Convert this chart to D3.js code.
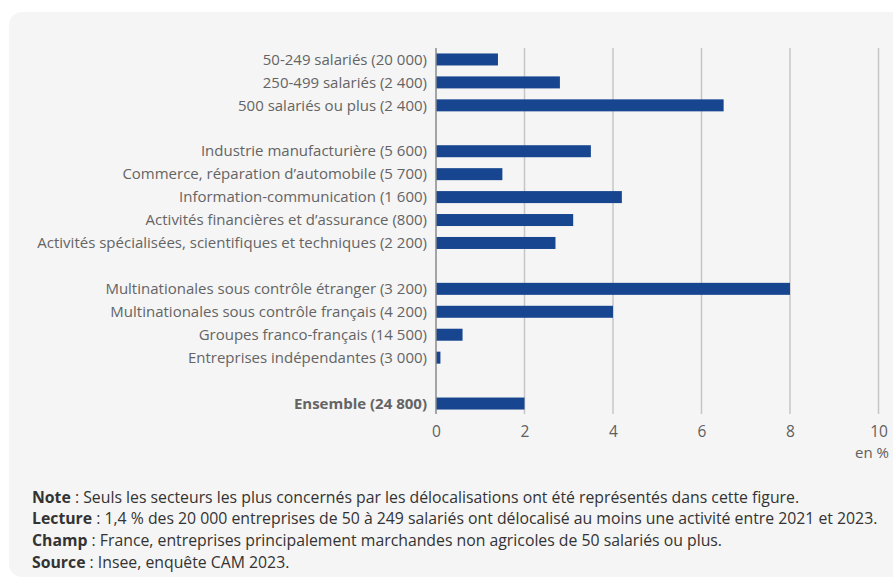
<!DOCTYPE html>
<html><head><meta charset="utf-8">
<script src="https://cdn.jsdelivr.net/npm/d3@7"></script>
<style>
html,body{margin:0;padding:0;background:#fff;}
svg{display:block;font-family:"Open Sans",sans-serif;}
</style></head>
<body>
<svg id="c" width="893" height="580"></svg>
<script>
const categories = [
  "50-249 salariés (20 000)",
  "250-499 salariés (2 400)",
  "500 salariés ou plus (2 400)",
  "",
  "Industrie manufacturière (5 600)",
  "Commerce, réparation d’automobile (5 700)",
  "Information-communication (1 600)",
  "Activités financières et d’assurance (800)",
  "Activités spécialisées, scientifiques et techniques (2 200)",
  " ",
  "Multinationales sous contrôle étranger (3 200)",
  "Multinationales sous contrôle français (4 200)",
  "Groupes franco-français (14 500)",
  "Entreprises indépendantes (3 000)",
  "  ",
  "Ensemble (24 800)"
];
const values = [1.4, 2.8, 6.5, null, 3.5, 1.5, 4.2, 3.1, 2.7, null, 8.0, 4.0, 0.6, 0.1, null, 2.0];
const boldCategories = ["Ensemble (24 800)"];
const xTicks = [0, 2, 4, 6, 8, 10];
const unitLabel = "en %";
const notes = [
  ["Note", " : Seuls les secteurs les plus concernés par les délocalisations ont été représentés dans cette figure."],
  ["Lecture", " : 1,4 % des 20 000 entreprises de 50 à 249 salariés ont délocalisé au moins une activité entre 2021 et 2023."],
  ["Champ", " : France, entreprises principalement marchandes non agricoles de 50 salariés ou plus."],
  ["Source", " : Insee, enquête CAM 2023."]
];

const svg = d3.select("#c");
svg.append("rect").attr("x", 9).attr("y", 12).attr("width", 900).attr("height", 565)
  .attr("rx", 13).attr("fill", "#f5f5f5");

const x = d3.scaleLinear().domain([0, 10]).range([436, 878.5]);
const y = d3.scaleBand().domain(categories).range([48, 415]).paddingInner(0.477).paddingOuter(0.2385);

// gridlines
svg.append("g").selectAll("line").data(xTicks.filter(d => d > 0)).join("line")
  .attr("x1", d => x(d)).attr("x2", d => x(d)).attr("y1", 48).attr("y2", 414)
  .attr("stroke", "#c6c6c6").attr("stroke-width", 1.5);

// bars
svg.append("g").selectAll("rect").data(categories.map((c, i) => ({c, v: values[i]})).filter(d => d.v != null))
  .join("rect")
  .attr("x", x(0)).attr("y", d => y(d.c)).attr("width", d => x(d.v) - x(0)).attr("height", y.bandwidth())
  .attr("fill", "#17458f");

// zero axis line
svg.append("line").attr("x1", x(0)).attr("x2", x(0)).attr("y1", 48).attr("y2", 414)
  .attr("stroke", "#8a8a8a").attr("stroke-width", 1.5);

// category labels
svg.append("g").selectAll("text").data(categories.filter(c => c.trim() !== "")).join("text")
  .attr("x", 427).attr("y", d => y(d) + y.bandwidth() / 2).attr("dy", "0.35em")
  .attr("text-anchor", "end").attr("font-size", 15).attr("fill", "#646464")
  .attr("font-weight", d => boldCategories.includes(d) ? "bold" : "normal")
  .text(d => d);

// x axis ticks
const xAxis = d3.axisBottom(x).tickValues(xTicks).tickSize(0).tickPadding(0).tickFormat(d3.format("d"));
const gx = svg.append("g").attr("transform", "translate(0,426)").call(xAxis);
gx.select(".domain").remove();
gx.selectAll("text").attr("font-family", "Open Sans, sans-serif").attr("font-size", 15.5).attr("fill", "#606060").attr("dy", "0.35em").attr("y", 6);

svg.append("text").attr("x", 889).attr("y", 453).attr("dy", "0.35em").attr("text-anchor", "end")
  .attr("font-size", 15).attr("fill", "#606060").text(unitLabel);

// notes
const nt = svg.append("g").selectAll("text").data(notes).join("text")
  .attr("x", 32).attr("y", (d, i) => 497 + i * 21.7).attr("dy", "0.35em")
  .attr("font-size", 15.8).attr("fill", "#333");
nt.append("tspan").attr("font-weight", "bold").text(d => d[0]);
nt.append("tspan").text(d => d[1]);
</script>
</body></html>
